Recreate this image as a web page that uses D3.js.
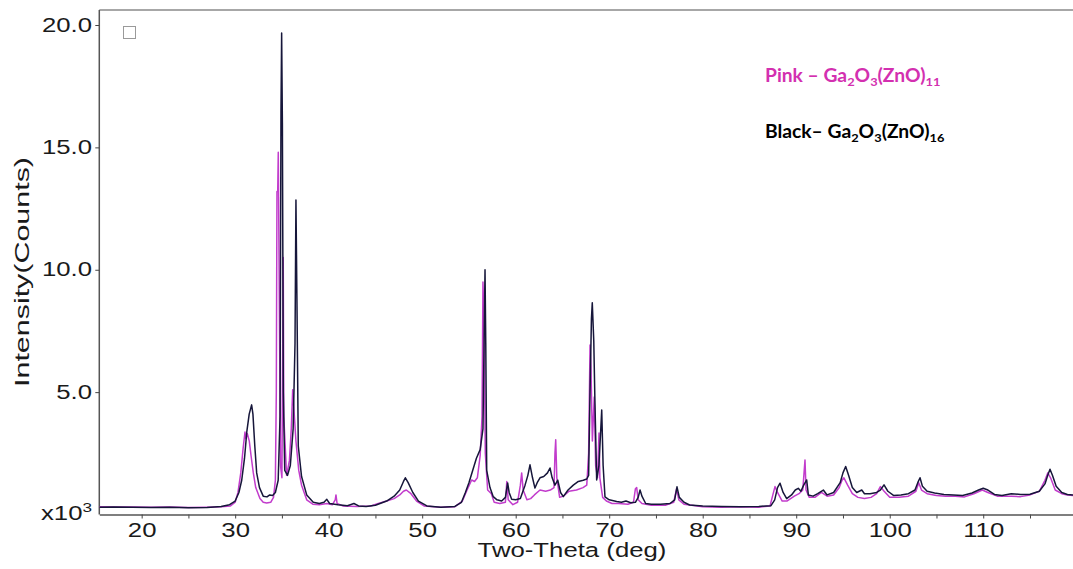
<!DOCTYPE html>
<html lang="en">
<head>
<meta charset="UTF-8">
<title>XRD Ga2O3(ZnO)</title>
<script src="https://d3js.org/d3.v7.min.js"></script>
<style>
    body { margin: 0; background: #fff; }
    #canvas { display: block; }
    .tick text { font-family: "Liberation Sans", Arial, sans-serif; font-size: 19.5px; fill: #1a1a1a; }
    .legend { font-family: Lato, "Open Sans", sans-serif; font-weight: bold; font-size: 18px; }
    .lbl { font-family: "Liberation Sans", Arial, sans-serif; fill: #1a1a1a; }
</style>
</head>
<body>
<svg id="canvas" width="1073" height="569"></svg>
<script>
    // two-theta (deg), intensity (x10^3 counts)
    let blackSeries = [
        [15.5,0.30],[17,0.31],[19,0.30],[21,0.29],[23,0.30],[25,0.28],[27,0.29],[28.5,0.33],[29.4,0.40],
        [30.0,0.55],[30.4,0.9],[30.7,1.4],[31.0,2.3],[31.25,3.4],[31.5,4.1],[31.76,4.48],[31.9,4.1],[32.1,2.8],
        [32.3,1.7],[32.6,1.1],[33.0,0.75],[33.4,0.72],[33.7,0.8],[34.0,0.78],[34.3,0.9],[34.6,1.4],[34.8,4.0],
        [34.9,16.5],[34.97,19.67],[35.05,16],[35.15,5],[35.3,1.8],[35.6,1.6],[35.9,2.0],[36.2,3.5],[36.4,7],
        [36.5,12.85],[36.6,9],[36.75,2.8],[37.1,1.55],[37.65,0.8],[38.35,0.5],[39.0,0.45],[39.5,0.5],[39.8,0.62],
        [40.1,0.45],[41,0.4],[42,0.36],[42.7,0.45],[43.2,0.35],[44,0.33],[45,0.38],[46.2,0.55],[47.0,0.75],
        [47.6,1.0],[48.0,1.35],[48.2,1.5],[48.5,1.3],[49.0,0.9],[49.6,0.55],[50.5,0.35],[52,0.3],[53.5,0.33],
        [54.2,0.5],[54.6,0.88],[55.0,1.3],[55.4,1.8],[55.8,2.3],[56.2,2.65],[56.5,3.5],[56.65,8],[56.72,10.0],
        [56.8,7],[56.9,1.8],[57.25,1.1],[57.6,0.73],[58.0,0.6],[58.5,0.55],[58.9,0.7],[59.14,1.29],[59.3,0.9],
        [59.57,0.62],[60.0,0.6],[60.5,0.65],[61.0,1.2],[61.3,1.6],[61.53,2.03],[61.8,1.5],[62.06,1.08],[62.3,1.3],
        [62.6,1.5],[63.0,1.55],[63.4,1.7],[63.67,1.9],[63.9,1.5],[64.2,1.2],[64.5,1.4],[64.8,0.9],[65.09,0.73],
        [65.6,1.0],[66.16,1.2],[66.7,1.35],[67.23,1.4],[67.6,1.45],[67.8,1.6],[67.95,5],[68.1,8.0],[68.19,8.65],
        [68.35,7.1],[68.48,4.5],[68.66,1.41],[68.9,2.0],[69.1,3.5],[69.2,4.27],[69.35,2.0],[69.55,0.72],[70.0,0.6],
        [70.8,0.53],[71.3,0.5],[71.8,0.55],[72.3,0.48],[72.8,0.5],[73.1,0.7],[73.3,1.0],[73.5,0.75],[73.9,0.45],
        [74.5,0.42],[75.5,0.42],[76.5,0.45],[77.0,0.6],[77.25,1.13],[77.5,0.7],[78.0,0.5],[78.6,0.39],[80,0.35],
        [82,0.33],[84,0.32],[86,0.33],[87.3,0.36],[87.7,0.6],[88.0,1.1],[88.27,1.28],[88.6,0.9],[88.98,0.65],
        [89.5,0.8],[89.9,1.0],[90.22,1.07],[90.5,0.95],[90.8,1.2],[91.12,1.41],[91.3,0.8],[91.8,0.75],[92.3,0.85],
        [92.9,1.0],[93.3,0.8],[94.0,0.9],[94.7,1.3],[95.0,1.7],[95.29,1.96],[95.6,1.6],[96.0,1.1],[96.47,0.9],
        [97.01,1.0],[97.3,0.85],[97.9,0.85],[98.6,0.9],[99.0,1.0],[99.39,1.21],[99.8,0.95],[100.4,0.78],[101.2,0.8],
        [102.0,0.85],[102.7,1.0],[103.0,1.3],[103.24,1.5],[103.5,1.15],[104.0,0.95],[104.8,0.88],[105.8,0.82],
        [106.8,0.8],[107.8,0.78],[108.8,0.88],[109.5,1.0],[110.0,1.07],[110.5,1.0],[111.2,0.82],[112,0.78],
        [113,0.85],[114,0.82],[115,0.83],[116,0.95],[116.6,1.25],[116.9,1.6],[117.14,1.85],[117.4,1.6],
        [117.8,1.15],[118.4,0.9],[119,0.82],[119.6,0.8]
    ]
    let pinkSeries = [
        [15.5,0.32],[17,0.31],[19,0.31],[21,0.30],[23,0.31],[25,0.29],[27,0.30],[28.5,0.32],[29.5,0.35],
        [30.0,0.5],[30.3,0.9],[30.6,1.7],[30.85,2.7],[31.05,3.37],[31.15,3.1],[31.3,3.3],[31.51,3.0],[31.7,2.4],
        [31.94,1.7],[32.2,1.1],[32.65,0.65],[33.0,0.5],[33.37,0.47],[33.8,0.5],[34.1,0.7],[34.3,1.4],[34.4,5],
        [34.47,13.2],[34.55,13.2],[34.61,14.8],[34.7,10],[34.85,2],[35.0,1.5],[35.14,10.5],[35.2,4],[35.5,1.6],
        [35.8,2.2],[36.0,3.5],[36.15,5.1],[36.3,4.2],[36.5,3.0],[36.8,1.8],[37.1,1.2],[37.65,0.6],[38.3,0.42],
        [39.0,0.4],[39.8,0.45],[40.4,0.4],[40.7,0.6],[40.78,0.8],[40.9,0.45],[41.5,0.35],[43,0.33],[44.5,0.35],
        [45.3,0.45],[46.2,0.55],[47,0.65],[47.6,0.8],[48.0,0.95],[48.3,1.0],[48.8,0.85],[49.4,0.55],[50.2,0.35],
        [52,0.3],[53.5,0.32],[54.3,0.55],[54.8,1.0],[55.29,1.41],[55.6,1.35],[55.9,1.5],[56.2,2.4],[56.4,4],
        [56.5,9.5],[56.6,8],[56.75,2.5],[57.0,1.0],[57.4,0.85],[57.7,0.5],[58.3,0.45],[58.9,0.5],[59.05,1.35],
        [59.2,0.6],[59.7,0.4],[60.2,0.5],[60.5,1.2],[60.64,1.7],[60.8,1.0],[61.2,0.6],[61.6,0.65],[62.0,0.8],
        [62.6,1.0],[63.2,0.95],[63.7,1.0],[64.1,1.1],[64.2,2.5],[64.28,3.05],[64.4,1.5],[64.7,0.7],[65.1,0.75],
        [65.7,0.95],[66.5,1.0],[67.2,1.1],[67.6,1.2],[67.8,2.5],[67.95,6.93],[68.05,6.0],[68.2,3.0],[68.4,4.8],
        [68.55,2.0],[68.75,1.5],[68.91,3.33],[69.0,1.5],[69.3,0.7],[69.7,0.55],[70.3,0.45],[71,0.45],[72.0,0.42],
        [72.6,0.5],[72.8,1.05],[72.94,1.1],[73.1,0.6],[73.5,0.45],[74.5,0.38],[76,0.38],[76.9,0.5],[77.2,1.05],
        [77.45,0.6],[78,0.42],[80,0.32],[82,0.30],[84,0.32],[86,0.30],[87.2,0.35],[87.5,0.8],[87.73,1.14],
        [88.0,0.9],[88.5,0.55],[89.0,0.55],[89.8,0.75],[90.3,0.85],[90.7,1.0],[90.94,2.23],[91.05,1.0],[91.4,0.7],
        [92.0,0.7],[92.7,0.9],[93.3,0.75],[94.0,0.8],[94.6,1.1],[94.9,1.4],[95.1,1.5],[95.5,1.2],[96.0,0.85],
        [96.6,0.7],[97.3,0.65],[98.0,0.7],[98.6,0.85],[99.0,1.14],[99.4,0.95],[100.0,0.7],[101,0.7],[102,0.75],
        [102.8,0.95],[103.1,1.3],[103.4,1.0],[104,0.85],[105,0.78],[106,0.75],[107,0.75],[108,0.72],[109,0.85],
        [109.9,1.0],[110.5,0.9],[111.5,0.75],[113,0.75],[114,0.73],[115,0.8],[116,0.95],[116.6,1.4],[116.9,1.7],
        [117.2,1.5],[117.7,1.0],[118.4,0.85],[119,0.8],[119.6,0.78]
    ]
    let xTicks = [20, 30, 40, 50, 60, 70, 80, 90, 100, 110]
    let xMinorTicks = [25, 35, 45, 55, 65, 75, 85, 95, 105, 115]
    let yTicks = [5, 10, 15, 20]

    let pink_color = "#c23ccc"
    let black_color = "#16163a"
    let stretch = 1.32   // text in the source is widened horizontally

    let svg = d3.select('#canvas')
    let plotLeft = 99.3, plotRight = 1073, plotTop = 10, plotBottom = 514.5

    let xScale = d3.scaleLinear().domain([15.47, 119.6]).range([plotLeft, plotRight])
    let yScale = d3.scaleLinear().domain([0, 20]).range([plotBottom, 25])

    // frame
    svg.append('line').attr('x1', plotLeft).attr('x2', plotRight).attr('y1', plotTop).attr('y2', plotTop)
        .attr('stroke', '#8a8a8a').attr('stroke-width', 1.5)

    // x axis
    svg.append('g').attr('transform', `translate(0,${plotBottom})`)
        .call(d3.axisBottom(xScale).tickValues(xMinorTicks).tickSize(4).tickFormat(''))
        .call(g => g.select('.domain').remove())
        .selectAll('line').attr('stroke', '#444')
    let xAxis = svg.append('g').attr('transform', `translate(0,${plotBottom})`)
        .call(d3.axisBottom(xScale).tickValues(xTicks).tickSize(4).tickSizeOuter(0).tickPadding(4.5))
    xAxis.select('.domain').attr('stroke', '#555').attr('stroke-width', 1.5)
    xAxis.selectAll('line').attr('stroke', '#444')
    xAxis.selectAll('text').attr('transform', `scale(${stretch},1)`)

    // y axis
    let yAxis = svg.append('g').attr('transform', `translate(${plotLeft},0)`)
        .call(d3.axisLeft(yScale).tickValues(yTicks).tickSize(4).tickPadding(1.5).tickFormat(d3.format('.1f')))
    yAxis.select('.domain').attr('d', `M0,${plotTop}V${plotBottom}`).attr('stroke', '#555').attr('stroke-width', 1.5)
    yAxis.selectAll('line').attr('stroke', '#444')
    yAxis.selectAll('text').attr('transform', `scale(${stretch},1)`)

    let exp = svg.append('text').attr('class', 'lbl').attr('text-anchor', 'end')
        .attr('transform', `translate(92,520) scale(${stretch},1)`).style('font-size', '19.5px')
    exp.append('tspan').text('x10')
    exp.append('tspan').attr('dy', -8).style('font-size', '13px').text('3')

    // axis titles
    svg.append('text').attr('class', 'lbl').attr('text-anchor', 'middle')
        .attr('transform', `translate(572,557) scale(${stretch},1)`).style('font-size', '19.5px')
        .text('Two-Theta (deg)')
    svg.append('text').attr('class', 'lbl').attr('transform', 'translate(29,272) rotate(-90)').attr('text-anchor', 'middle')
        .attr('textLength', 230).attr('lengthAdjust', 'spacingAndGlyphs')
        .style('font-size', '21px')
        .text('Intensity(Counts)')

    // small box marker
    svg.append('rect').attr('x', 123.5).attr('y', 26.5).attr('width', 12).attr('height', 12)
        .attr('fill', 'none').attr('stroke', '#9a9a9a').attr('stroke-width', 1)

    // lines
    let lineGenerator = d3.line().x(d => xScale(d[0])).y(d => yScale(d[1]))
    svg.append('path').attr('d', lineGenerator(pinkSeries))
        .attr('fill', 'none').attr('stroke', pink_color).attr('stroke-width', 1.5).attr('stroke-linejoin', 'round')
    svg.append('path').attr('d', lineGenerator(blackSeries))
        .attr('fill', 'none').attr('stroke', black_color).attr('stroke-width', 1.5).attr('stroke-linejoin', 'round')

    // legend text
    function formula(y, label, color, n) {
        let t = svg.append('text').attr('class', 'legend')
            .attr('transform', `translate(765,${y}) scale(1.07,1)`).attr('fill', color)
        t.append('tspan').text(label + 'Ga')
        t.append('tspan').attr('dy', 3.5).style('font-size', '12px').text('2')
        t.append('tspan').attr('dy', -3.5).text('O')
        t.append('tspan').attr('dy', 3.5).style('font-size', '12px').text('3')
        t.append('tspan').attr('dy', -3.5).text('(ZnO)')
        t.append('tspan').attr('dy', 3.5).style('font-size', '12px').text(n)
    }
    formula(82, 'Pink – ', '#d330b0', '11')
    formula(138, 'Black– ', '#000', '16')
</script>
</body>
</html>
